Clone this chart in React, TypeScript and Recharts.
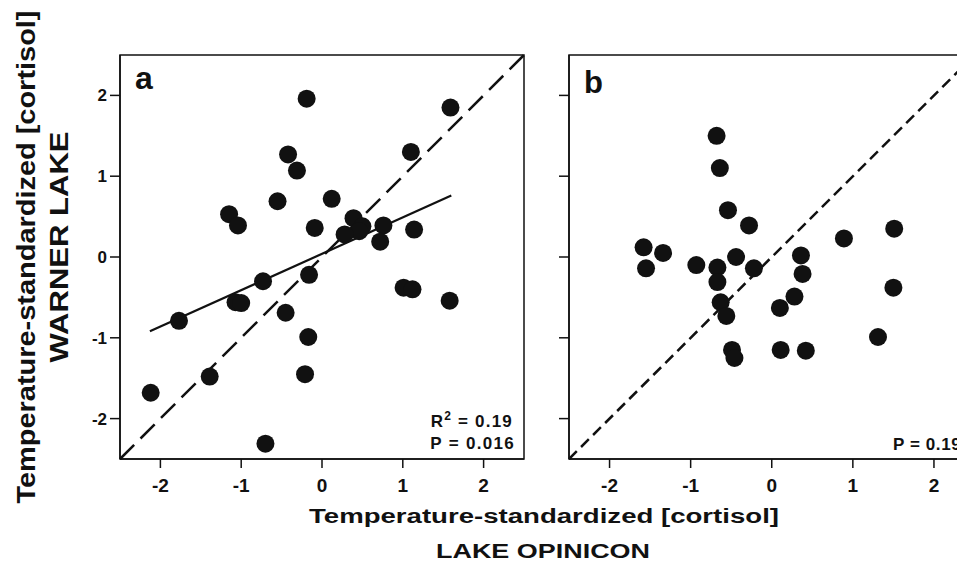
import {
  ScatterChart,
  Scatter,
  XAxis,
  YAxis,
  ReferenceLine,
  ReferenceArea,
} from "recharts";

// panel a: Lake Opinicon (x) vs Warner Lake (y), with regression fit
const aX = [-0.19, 1.59, 1.1, -0.42, -0.31, -0.55, 0.12, -1.15, -1.04, -0.09, 0.39, 0.5, 0.46, 0.28, 0.76, 1.14, 0.72, -0.16, -0.73, 1.01, 1.12, 1.58, -1.07, -1.0, -1.77, -0.45, -0.17, -1.39, -0.21, -2.12, -0.7];
const aY = [1.96, 1.85, 1.3, 1.27, 1.07, 0.69, 0.72, 0.53, 0.39, 0.36, 0.48, 0.38, 0.32, 0.28, 0.39, 0.34, 0.19, -0.22, -0.3, -0.38, -0.4, -0.54, -0.56, -0.57, -0.79, -0.69, -0.99, -1.48, -1.45, -1.68, -2.31];
const aFitX = [-2.13, 1.6];
const aFitY = [-0.92, 0.76];

// panel b: no significant relationship
const bX = [-0.68, -0.64, -0.54, -0.28, 0.89, 1.51, -1.58, -1.34, -1.55, -0.93, -0.67, -0.44, -0.22, 0.36, 0.38, -0.67, 1.5, 0.28, -0.63, 0.1, -0.56, 1.31, -0.49, -0.46, 0.11, 0.42];
const bY = [1.5, 1.1, 0.58, 0.39, 0.23, 0.35, 0.12, 0.05, -0.14, -0.1, -0.13, 0.0, -0.14, 0.02, -0.21, -0.31, -0.38, -0.49, -0.56, -0.63, -0.73, -0.99, -1.15, -1.25, -1.15, -1.16];

const ticks = [-2, -1, 0, 1, 2];
const domain: [number, number] = [-2.5, 2.5];

const FONT = '"Liberation Sans", Arial, Helvetica, sans-serif';
const INK = "#111";

const toPoints = (xs: number[], ys: number[]) => xs.map((x, i) => ({ x, y: ys[i] }));

function Dot(props: any) {
  const { cx, cy } = props;
  if (cx == null || cy == null) return null;
  return <circle cx={cx} cy={cy} r={9} fill={INK} />;
}

function Panel({
  points,
  dash,
  fit,
  yLabels,
  width,
  left,
  yWidth,
  marginLeft,
  marginRight,
}: {
  points: { x: number; y: number }[];
  dash: string;
  fit?: { x: number; y: number }[];
  yLabels: boolean;
  width: number;
  left: number;
  yWidth: number;
  marginLeft: number;
  marginRight: number;
}) {
  return (
    <div style={{ position: "absolute", left, top: 0 }}>
      <ScatterChart
        width={width}
        height={554}
        margin={{ top: 47, right: marginRight, bottom: 73, left: marginLeft }}
      >
        <XAxis
          type="number"
          dataKey="x"
          domain={domain}
          ticks={ticks}
          allowDataOverflow
          height={30}
          axisLine={{ stroke: INK, strokeWidth: 1.5 }}
          tickLine={{ stroke: INK, strokeWidth: 1.5 }}
          tickSize={9}
          tickMargin={11}
          tick={{ fill: INK, fontSize: 19, fontWeight: "bold", fontFamily: FONT }}
        />
        <YAxis
          type="number"
          dataKey="y"
          domain={domain}
          ticks={ticks}
          allowDataOverflow
          width={yWidth}
          axisLine={{ stroke: INK, strokeWidth: 1.5 }}
          tickLine={{ stroke: INK, strokeWidth: 1.5 }}
          tickSize={10}
          tickMargin={3}
          tickFormatter={(v: number) => (yLabels ? String(v) : "")}
          tick={{ fill: INK, fontSize: 17, fontWeight: "bold", fontFamily: FONT }}
        />
        <ReferenceArea
          x1={-2.5}
          x2={2.5}
          y1={-2.5}
          y2={2.5}
          fill="none"
          fillOpacity={0}
          stroke={INK}
          strokeWidth={1.5}
        />
        <ReferenceLine
          segment={[
            { x: -2.5, y: -2.5 },
            { x: 2.5, y: 2.5 },
          ]}
          stroke={INK}
          strokeWidth={2.5}
          strokeDasharray={dash}
        />
        {fit && <ReferenceLine segment={fit} stroke={INK} strokeWidth={2.2} />}
        <Scatter data={points} fill={INK} shape={<Dot />} isAnimationActive={false} />
      </ScatterChart>
    </div>
  );
}

export default function App() {
  const bold = { fontFamily: FONT, fontWeight: "bold" as const, fill: INK };
  return (
    <div
      style={{
        position: "relative",
        width: 957,
        height: 554,
        overflow: "hidden",
        background: "#fff",
      }}
    >
      <Panel
        points={toPoints(aX, aY)}
        dash="20 9"
        fit={toPoints(aFitX, aFitY)}
        yLabels
        width={530}
        left={0}
        yWidth={40}
        marginLeft={72}
        marginRight={14}
      />
      <Panel
        points={toPoints(bX, bY)}
        dash="11 6"
        yLabels={false}
        width={450}
        left={530}
        yWidth={20}
        marginLeft={11}
        marginRight={13.5}
      />
      <svg
        width={957}
        height={554}
        style={{ position: "absolute", left: 0, top: 0, pointerEvents: "none" }}
      >
        <text
          {...bold}
          fontSize={25}
          textAnchor="middle"
          transform="translate(27,249) rotate(-90)"
          textLength={493}
          lengthAdjust="spacingAndGlyphs"
        >
          Temperature-standardized [cortisol]
        </text>
        <text
          {...bold}
          fontSize={25}
          textAnchor="middle"
          transform="translate(60,239) rotate(-90)"
          textLength={231}
          lengthAdjust="spacingAndGlyphs"
        >
          WARNER LAKE
        </text>
        <text
          {...bold}
          fontSize={20}
          x={536}
          y={515}
          textAnchor="middle"
          textLength={470}
          lengthAdjust="spacingAndGlyphs"
        >
          Temperature-standardized [cortisol]
        </text>
        <text
          {...bold}
          fontSize={20}
          x={535}
          y={550}
          textAnchor="middle"
          textLength={214}
          lengthAdjust="spacingAndGlyphs"
        >
          LAKE OPINICON
        </text>
        <text {...bold} fontSize={32} x={127} y={81}>
          a
        </text>
        <text {...bold} fontSize={31} x={576} y={85}>
          b
        </text>
        <text {...bold} fontSize={17} x={505} y={419} textAnchor="end" letterSpacing={1.2}>
          R<tspan fontSize={12} dy={-7}>2</tspan>
          <tspan dy={7}> = 0.19</tspan>
        </text>
        <text {...bold} fontSize={17} x={507} y={441} textAnchor="end" letterSpacing={1.3}>
          P = 0.016
        </text>
        <text {...bold} fontSize={17} x={885} y={442} letterSpacing={0.6}>
          P = 0.19
        </text>
      </svg>
    </div>
  );
}
